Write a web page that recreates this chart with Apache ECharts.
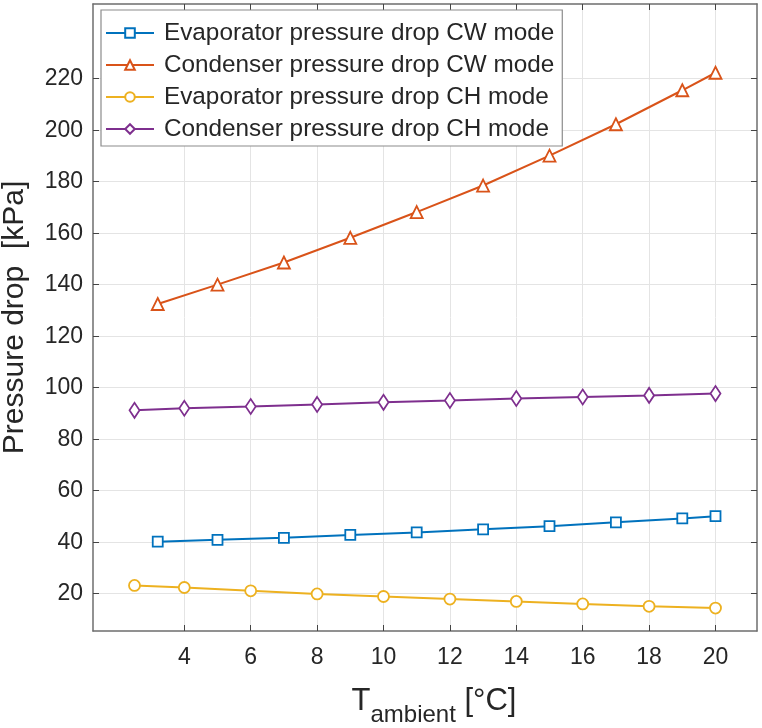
<!DOCTYPE html>
<html>
<head>
<meta charset="utf-8">
<script src="https://cdn.jsdelivr.net/npm/echarts@6/dist/echarts.min.js"></script>
<style>
  html, body { margin: 0; padding: 0; background: #fff; }
  #myChart { width: 762px; height: 728px; }
</style>
</head>
<body>
<div id="myChart"></div>
<script>
// data
var xTicks = [4, 6, 8, 10, 12, 14, 16, 18, 20];
var yTicks = [20, 40, 60, 80, 100, 120, 140, 160, 180, 200, 220];

var tCW = [3.2, 5, 7, 9, 11, 13, 15, 17, 19, 20];
var tCH = [2.5, 4, 6, 8, 10, 12, 14, 16, 18, 20];

var evapCW = [40.2, 40.9, 41.7, 42.8, 43.8, 45.0, 46.2, 47.7, 49.2, 50.1];
var condCW = [132.5, 140.0, 148.6, 158.2, 168.2, 178.5, 190.1, 202.3, 215.5, 222.3];
var evapCH = [23.2, 22.4, 21.1, 19.9, 18.9, 17.9, 17.0, 16.0, 15.1, 14.4];
var condCH = [91.2, 92.0, 92.7, 93.5, 94.3, 95.0, 95.8, 96.4, 97.0, 97.7];

var names = [
  "Evaporator pressure drop CW mode",
  "Condenser pressure drop CW mode",
  "Evaporator pressure drop CH mode",
  "Condenser pressure drop CH mode"
];
var colors = ["#0072BD", "#D95319", "#EDB120", "#7E2F8E"];

function pairs(xs, ys) {
  return xs.map(function (x, i) { return [x, ys[i]]; });
}

var myChart = echarts.init(document.getElementById("myChart"));
var font = "Liberation Sans, Arial, sans-serif";
var axisCol = "#6e6e6e";
var textCol = "#262626";

function lineSeries(i, xs, ys, symbol, size) {
  return {
    name: names[i],
    type: "line",
    data: pairs(xs, ys),
    symbol: symbol,
    symbolSize: size,
    showAllSymbol: true,
    lineStyle: { color: colors[i], width: 2 },
    itemStyle: { color: "#fff", borderColor: colors[i], borderWidth: 1.8 },
    emphasis: { disabled: true },
    z: 3
  };
}

myChart.setOption({
  animation: false,
  textStyle: { fontFamily: font },
  grid: { left: 93, right: 5, top: 4, bottom: 97, containLabel: false, outerBoundsMode: "none" },
  legend: {
    orient: "vertical",
    left: 101,
    top: 10,
    padding: [11, 8, 5, 4],
    itemGap: 8,
    itemWidth: 48,
    itemHeight: 12,
    backgroundColor: "#fff",
    borderColor: "#8c8c8c",
    borderWidth: 1.2,
    textStyle: { color: textCol, fontSize: 24.3, fontFamily: font, padding: [0, 0, 0, 5] },
    data: names
  },
  xAxis: [
    {
      type: "value",
      min: 1.25,
      max: 21.25,
      axisLine: { show: true, onZero: false, lineStyle: { color: axisCol, width: 1.5 } },
      axisTick: { show: true, inside: true, length: 6, customValues: xTicks, lineStyle: { color: "#444" } },
      axisLabel: { customValues: xTicks, color: textCol, fontSize: 23, margin: 15 },
      splitLine: { show: true, lineStyle: { color: "#e4e4e4", width: 1 } },
      name: "{t|T}{s|ambient}{t| [°C]}",
      nameLocation: "middle",
      nameGap: 44,
      nameTextStyle: {
        padding: [0, 0, 0, 18],
        rich: {
          t: { fontSize: 31, color: textCol, fontFamily: font },
          s: { fontSize: 24, color: textCol, fontFamily: font, padding: [28, 0, 0, 0] }
        }
      }
    },
    {
      type: "value",
      position: "top",
      min: 1.25,
      max: 21.25,
      axisLine: { show: true, onZero: false, lineStyle: { color: axisCol, width: 1.5 } },
      axisTick: { show: true, inside: true, length: 6, customValues: xTicks, lineStyle: { color: "#444" } },
      axisLabel: { show: false },
      splitLine: { show: false }
    }
  ],
  yAxis: [
    {
      type: "value",
      min: 5.5,
      max: 249,
      axisLine: { show: true, onZero: false, lineStyle: { color: axisCol, width: 1.5 } },
      axisTick: { show: true, inside: true, length: 6, customValues: yTicks, lineStyle: { color: "#444" } },
      axisLabel: { customValues: yTicks, color: textCol, fontSize: 23, margin: 10 },
      splitLine: { show: true, lineStyle: { color: "#e4e4e4", width: 1 } },
      name: "Pressure drop  [kPa]",
      nameLocation: "middle",
      nameGap: 63,
      nameTextStyle: { fontSize: 30, color: textCol }
    },
    {
      type: "value",
      position: "right",
      min: 5.5,
      max: 249,
      axisLine: { show: true, onZero: false, lineStyle: { color: axisCol, width: 1.5 } },
      axisTick: { show: true, inside: true, length: 6, customValues: yTicks, lineStyle: { color: "#444" } },
      axisLabel: { show: false },
      splitLine: { show: false }
    }
  ],
  series: [
    lineSeries(0, tCW, evapCW, "rect", 10),
    lineSeries(1, tCW, condCW, "triangle", 12),
    lineSeries(2, tCH, evapCH, "circle", 11),
    lineSeries(3, tCH, condCH, "diamond", [10, 15])
  ]
});
</script>
</body>
</html>
